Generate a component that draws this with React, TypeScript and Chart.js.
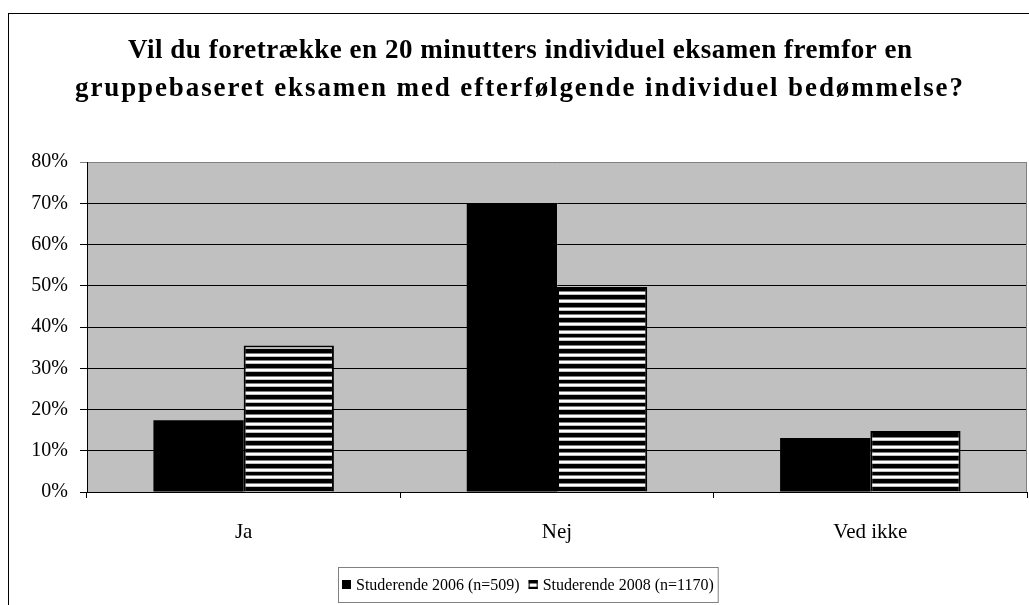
import React, { useEffect, useRef } from "react";
import { Chart, registerables } from "chart.js";

Chart.register(...registerables);

const categories = ["Ja", "Nej", "Ved ikke"];
const series2006 = [17.4, 70.0, 13.1];
const series2008 = [35.5, 49.7, 14.8];
const seriesLabels = ["Studerende 2006 (n=509)", "Studerende 2008 (n=1170)"];
const titleLines = [
  "Vil du foretrække en 20 minutters individuel eksamen fremfor en",
  "gruppebaseret eksamen med efterfølgende individuel bedømmelse?",
];
const yMin = 0;
const yMax = 80;
const yStep = 10;

const W = 1029;
const H = 605;
const FONT = "'Liberation Serif', 'Times New Roman', serif";

function makeStripePattern(ctx: CanvasRenderingContext2D): CanvasPattern | string {
  const c = document.createElement("canvas");
  c.width = 4;
  c.height = 23;
  const p = c.getContext("2d");
  if (!p) return "#888";
  const rows = [
    "#808080", "#ffffff", "#ffffff", "#c0c0c0", "#000", "#000", "#000", "#000",
    "#808080", "#ffffff", "#ffffff", "#c0c0c0", "#000", "#000", "#000",
    "#808080", "#ffffff", "#ffffff", "#c0c0c0", "#000", "#000", "#000", "#000",
  ];
  rows.forEach((col, i) => {
    p.fillStyle = col;
    p.fillRect(0, i, 4, 1);
  });
  return ctx.createPattern(c, "repeat") || "#888";
}

function drawSpacedCentered(
  c: CanvasRenderingContext2D,
  text: string,
  cx: number,
  y: number,
  targetWidth: number
) {
  const anyC = c as any;
  const hasLS = "letterSpacing" in anyC;
  if (hasLS) anyC.letterSpacing = "0px";
  const base = c.measureText(text).width;
  const n = Math.max(1, text.length - 1);
  const sp = Math.max(0, (targetWidth - base) / n);
  if (hasLS && sp > 0) {
    anyC.letterSpacing = `${sp.toFixed(2)}px`;
    c.textAlign = "left";
    c.fillText(text, cx - (base + sp * n) / 2, y);
    anyC.letterSpacing = "0px";
  } else {
    c.textAlign = "center";
    c.fillText(text, cx, y);
  }
}

export default function App() {
  const ref = useRef<HTMLCanvasElement | null>(null);

  useEffect(() => {
    const canvas = ref.current;
    if (!canvas) return;
    const ctx = canvas.getContext("2d");
    if (!ctx) return;
    const stripes = makeStripePattern(ctx);

    const framePlugin = {
      id: "frame",
      beforeDraw(chart: any) {
        const c = chart.ctx as CanvasRenderingContext2D;
        const a = chart.chartArea;
        c.save();
        c.fillStyle = "#ffffff";
        c.fillRect(0, 0, chart.width, chart.height);
        c.fillStyle = "#c0c0c0";
        c.fillRect(a.left, a.top, a.right - a.left, a.bottom - a.top);
        c.restore();
      },
      afterDraw(chart: any) {
        const c = chart.ctx as CanvasRenderingContext2D;
        const a = chart.chartArea;
        c.save();
        // outer frame
        c.strokeStyle = "#000";
        c.lineWidth = 1;
        c.strokeRect(8.5, 13.5, W + 10, H + 10);
        // plot border right
        c.strokeStyle = "#808080";
        c.beginPath();
        c.moveTo(a.right - 0.5, a.top);
        c.lineTo(a.right - 0.5, a.bottom);
        c.stroke();
        // title
        c.fillStyle = "#000";
        c.font = `bold 27px ${FONT}`;
        c.textBaseline = "middle";
        drawSpacedCentered(c, titleLines[0], 520, 51, 784);
        drawSpacedCentered(c, titleLines[1], 519, 89, 888);
        // legend
        c.font = `16px ${FONT}`;
        c.textAlign = "left";
        const x0 = 338;
        const y0 = 567;
        const h = 35;
        const cy = y0 + h / 2;
        const m = 9;
        let x = x0 + 4;
        const colors: (string | CanvasPattern)[] = ["#000", stripes];
        seriesLabels.forEach((lab, i) => {
          c.fillStyle = colors[i] as any;
          c.fillRect(x, cy - m / 2, m, m);
          c.strokeStyle = "#000";
          c.lineWidth = 1;
          c.strokeRect(x + 0.5, cy - m / 2 + 0.5, m - 1, m - 1);
          c.fillStyle = "#000";
          c.fillText(lab, x + m + 5, cy + 1);
          x = x + m + 5 + c.measureText(lab).width + (i === seriesLabels.length - 1 ? 4 : 9);
        });
        c.strokeStyle = "#808080";
        c.strokeRect(x0 + 0.5, y0 + 0.5, x - x0, h);
        c.restore();
      },
    };

    const chart = new Chart(ctx, {
      type: "bar",
      data: {
        labels: categories,
        datasets: [
          {
            label: seriesLabels[0],
            data: series2006,
            backgroundColor: "#000",
            borderColor: "#000",
            borderWidth: 0,
            categoryPercentage: 0.576,
            barPercentage: 1,
          },
          {
            label: seriesLabels[1],
            data: series2008,
            backgroundColor: stripes as any,
            borderColor: "#000",
            borderWidth: 2,
            categoryPercentage: 0.576,
            barPercentage: 1,
          },
        ],
      },
      options: {
        responsive: false,
        animation: false,
        devicePixelRatio: 1,
        layout: { padding: { top: 162, left: 0, right: 2, bottom: 0 } },
        plugins: {
          legend: { display: false },
          title: { display: false },
          tooltip: { enabled: false },
        },
        scales: {
          x: {
            grid: {
              offset: true,
              drawOnChartArea: false,
              drawTicks: true,
              tickLength: 6,
              color: "#000",
            },
            border: { color: "#000", width: 1 },
            ticks: {
              color: "#000",
              font: { family: FONT, size: 21 },
              padding: 22,
            },
            afterFit(scale: any) {
              scale.height = H - 492;
            },
          },
          y: {
            min: yMin,
            max: yMax,
            ticks: {
              stepSize: yStep,
              color: "#000",
              font: { family: FONT, size: 20 },
              padding: 12,
              callback: (v: any) => `${v}%`,
            },
            grid: {
              color: (c: any) => (c.tick && c.tick.value === yMax ? "#808080" : "#000"),
              tickLength: 7,
              drawTicks: true,
            },
            border: { color: "#000", width: 1 },
            afterFit(scale: any) {
              scale.width = 87;
            },
          },
        },
      },
      plugins: [framePlugin],
    });

    return () => chart.destroy();
  }, []);

  return (
    <div style={{ position: "fixed", left: 0, top: 0, width: W, height: H, background: "#fff" }}>
      <canvas ref={ref} width={W} height={H} style={{ display: "block" }} />
    </div>
  );
}
